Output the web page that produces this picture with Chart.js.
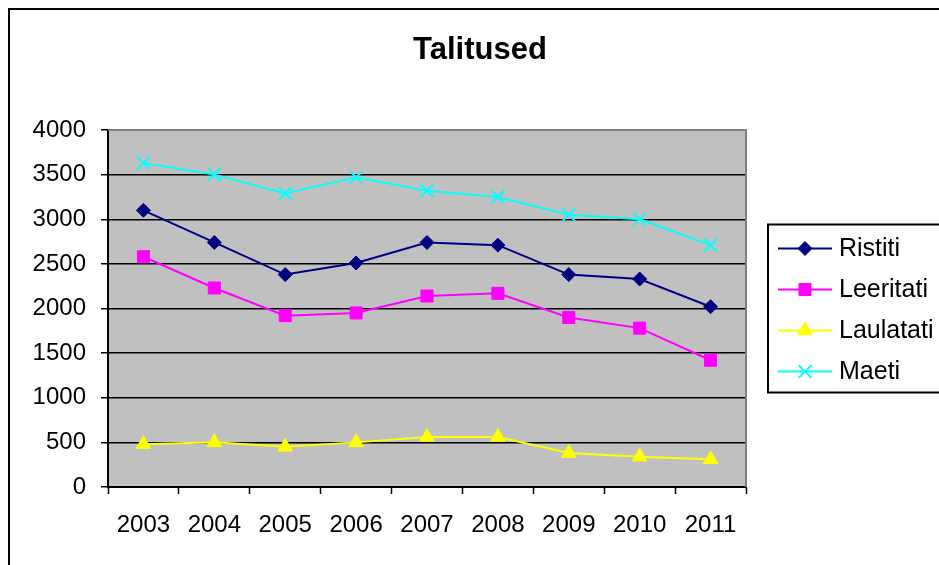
<!DOCTYPE html>
<html>
<head>
<meta charset="utf-8">
<script src="https://cdn.jsdelivr.net/npm/chart.js@4"></script>
<style>
  html, body { margin: 0; padding: 0; background: #ffffff; }
  #wrap { position: relative; width: 939px; height: 565px; }
</style>
</head>
<body>
<div id="wrap"><canvas id="chart"></canvas></div>
<script>
const years = ["2003", "2004", "2005", "2006", "2007", "2008", "2009", "2010", "2011"];
const ristiti = [3100, 2740, 2380, 2510, 2740, 2710, 2380, 2330, 2020];
const leeritati = [2580, 2230, 1920, 1950, 2140, 2170, 1900, 1780, 1420];
const laulatati = [480, 500, 450, 500, 560, 560, 380, 340, 310];
const maeti = [3630, 3500, 3290, 3470, 3320, 3250, 3050, 3000, 2710];
const chartTitle = "Talitused";

const FONT = "'Liberation Sans', Arial, sans-serif";

const makeSet = (label, values, color, style, radius) => ({
  label: label,
  data: values,
  borderColor: color,
  backgroundColor: color,
  borderWidth: 2,
  pointStyle: style,
  pointRadius: radius,
  pointHoverRadius: radius,
  pointBorderWidth: style === "crossRot" ? 2 : 1,
  pointBorderColor: color,
  pointBackgroundColor: color,
  tension: 0,
});

// gray plot area, plus the gray top/right border
const plotArea = {
  id: "plotArea",
  beforeDraw(chart) {
    const { ctx, chartArea: a } = chart;
    ctx.save();
    ctx.fillStyle = "#C0C0C0";
    ctx.fillRect(a.left, a.top, a.right - a.left, a.bottom - a.top);
    ctx.restore();
  },
  beforeDatasetsDraw(chart) {
    const { ctx, chartArea: a } = chart;
    ctx.save();
    ctx.strokeStyle = "#808080";
    ctx.lineWidth = 2;
    ctx.beginPath();
    ctx.moveTo(a.left, a.top);
    ctx.lineTo(a.right, a.top);
    ctx.lineTo(a.right, a.bottom);
    ctx.stroke();
    ctx.restore();
  },
};

// title centred on the whole frame, excel style legend, outer frame
const decorations = {
  id: "decorations",
  afterDraw(chart) {
    const { ctx, chartArea: a } = chart;
    const sets = chart.data.datasets;
    ctx.save();

    ctx.fillStyle = "#000";
    ctx.font = "bold 31px " + FONT;
    ctx.textAlign = "center";
    ctx.textBaseline = "middle";
    ctx.fillText(chartTitle, (chart.width + 21) / 2, 50);

    const rowH = 41;
    const boxH = sets.length * rowH + 4;
    const left = a.right + 22;
    const top = (a.top + a.bottom) / 2 - boxH / 2;
    ctx.strokeStyle = "#000";
    ctx.lineWidth = 2;
    ctx.strokeRect(left, top, 200, boxH);
    sets.forEach((ds, i) => {
      const y = top + 24 + i * rowH;
      ctx.strokeStyle = ds.borderColor;
      ctx.lineWidth = 2;
      ctx.beginPath();
      ctx.moveTo(left + 10, y);
      ctx.lineTo(left + 64, y);
      ctx.stroke();
      ctx.fillStyle = ds.backgroundColor;
      ctx.lineWidth = ds.pointBorderWidth;
      Chart.helpers.drawPoint(ctx, {
        pointStyle: ds.pointStyle,
        radius: ds.pointRadius,
        rotation: 0,
        borderWidth: ds.pointBorderWidth,
      }, left + 37, y);
      ctx.fillStyle = "#000";
      ctx.font = "25px " + FONT;
      ctx.textBaseline = "middle";
      ctx.textAlign = "left";
      ctx.fillText(ds.label, left + 71, y + 1);
    });

    ctx.strokeStyle = "#000";
    ctx.lineWidth = 2;
    ctx.strokeRect(9, 9, chart.width + 20, chart.height + 20);
    ctx.restore();
  },
};

new Chart(document.getElementById("chart"), {
  type: "line",
  data: {
    labels: years,
    datasets: [
      makeSet("Ristiti", ristiti, "#000080", "rectRot", 7),
      makeSet("Leeritati", leeritati, "#FF00FF", "rect", 8.5),
      makeSet("Laulatati", laulatati, "#FFFF00", "triangle", 8.5),
      makeSet("Maeti", maeti, "#00FFFF", "crossRot", 9),
    ],
  },
  options: {
    responsive: true,
    maintainAspectRatio: false,
    animation: false,
    layout: { padding: { left: 0, right: 193, top: 130, bottom: 0 } },
    plugins: {
      legend: { display: false },
      tooltip: { enabled: false },
      title: { display: false },
    },
    scales: {
      x: {
        offset: true,
        grid: {
          offset: true,
          drawOnChartArea: false,
          drawTicks: true,
          tickLength: 7,
          tickColor: "#000",
          tickWidth: 1.5,
        },
        border: { color: "#000", width: 2 },
        ticks: {
          color: "#000",
          padding: 17,
          maxRotation: 0,
          autoSkip: false,
          font: { family: FONT, size: 24 },
        },
        afterFit(scale) { scale.height = 78; },
      },
      y: {
        min: 0,
        max: 4000,
        grid: {
          color: (c) => (c.tick && c.tick.value === 4000 ? "rgba(0,0,0,0)" : "#000"),
          lineWidth: 1.5,
          tickLength: 7,
          tickColor: "#000",
          tickWidth: 1.5,
        },
        border: { color: "#000", width: 2 },
        ticks: {
          stepSize: 500,
          color: "#000",
          padding: 15,
          font: { family: FONT, size: 24 },
          callback: (v) => String(v),
        },
        afterFit(scale) { scale.width = 108; },
      },
    },
  },
  plugins: [plotArea, decorations],
});
</script>
</body>
</html>
